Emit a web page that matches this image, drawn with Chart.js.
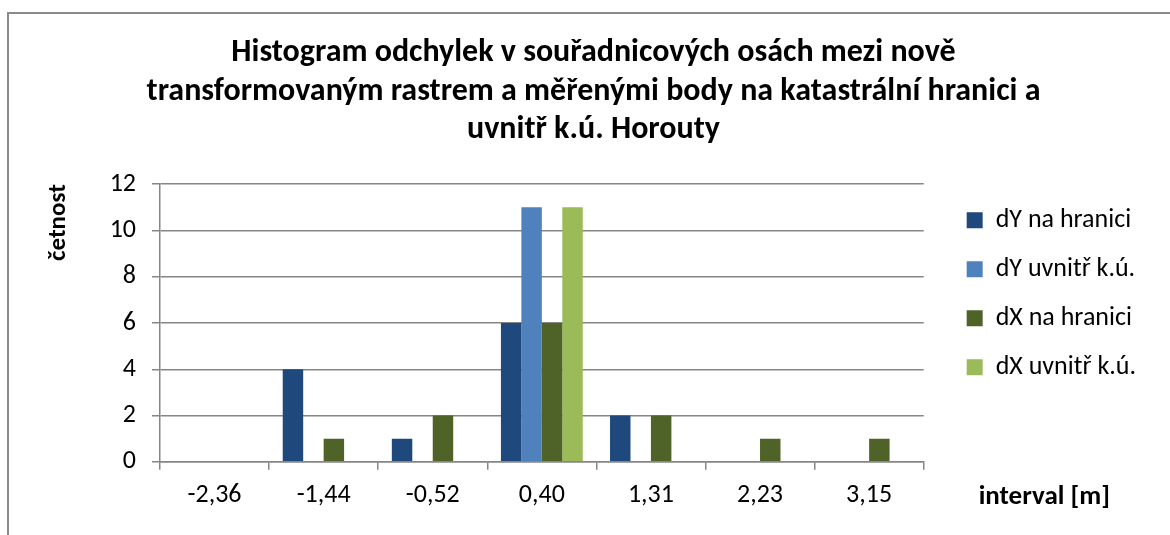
<!DOCTYPE html>
<html>
<head>
<meta charset="utf-8">
<script src="https://cdn.jsdelivr.net/npm/chart.js@4"></script>
<style>
  html, body { margin: 0; padding: 0; background: #fff; }
  #wrap { position: relative; width: 1170px; height: 535px; overflow: hidden; }
  #frame { position: absolute; left: 7px; top: 12px; width: 1200px; height: 600px;
           border-left: 2px solid #8a8a8a; border-top: 2px solid #8a8a8a; }
  canvas { position: absolute; left: 0; top: 0; }
</style>
</head>
<body>
<div id="wrap">
  <div id="frame"></div>
  <canvas id="histo" width="1170" height="535"></canvas>
</div>
<script>
// intervaly (stredy trid) a cetnosti
const categories = ['-2,36', '-1,44', '-0,52', '0,40', '1,31', '2,23', '3,15'];
const dyHranice = [0, 4, 1, 6, 2, 0, 0];
const dyUvnitr = [0, 0, 0, 11, 0, 0, 0];
const dxHranice = [0, 1, 2, 6, 2, 1, 1];
const dxUvnitr = [0, 0, 0, 11, 0, 0, 0];
const yTicks = [0, 2, 4, 6, 8, 10, 12];

const FONT = 'Carlito, "Liberation Sans Narrow", "Open Sans", sans-serif';
const gridColor = '#868686';

// popisek osy x vpravo od grafu (jako v Excelu)
const xTitlePlugin = {
  id: 'xTitleRight',
  afterDraw(chart) {
    const { ctx, chartArea } = chart;
    ctx.save();
    ctx.font = 'bold 27px ' + FONT;
    ctx.fillStyle = '#000';
    ctx.textBaseline = 'middle';
    ctx.textAlign = 'left';
    ctx.fillText('interval [m]', chartArea.right + 55, chartArea.bottom + 35);
    ctx.restore();
  }
};

new Chart(document.getElementById('histo'), {
  type: 'bar',
  data: {
    labels: categories,
    datasets: [
      { label: 'dY na hranici', data: dyHranice, backgroundColor: '#1F497D' },
      { label: 'dY uvnitř k.ú.', data: dyUvnitr, backgroundColor: '#4F81BD' },
      { label: 'dX na hranici', data: dxHranice, backgroundColor: '#4F6228' },
      { label: 'dX uvnitř k.ú.', data: dxUvnitr, backgroundColor: '#9BBB59' }
    ]
  },
  options: {
    responsive: false,
    animation: false,
    devicePixelRatio: 1,
    categoryPercentage: 0.75,
    barPercentage: 1.0,
    layout: { padding: { left: 41, right: 24, top: 25, bottom: 14 } },
    plugins: {
      title: {
        display: true,
        text: [
          'Histogram odchylek v souřadnicových osách mezi nově',
          'transformovaným rastrem a měřenými body na katastrální hranici a',
          'uvnitř k.ú. Horouty'
        ],
        color: '#000',
        font: { family: FONT, size: 32, weight: 'bold', lineHeight: 1.2 },
        padding: { top: 9, bottom: 35 }
      },
      legend: {
        position: 'right',
        align: 'start',
        fullSize: false,
        maxWidth: 260,
        labels: {
          color: '#000',
          font: { family: FONT, size: 26 },
          boxWidth: 16,
          boxHeight: 16,
          padding: 23
        }
      },
      tooltip: { enabled: false }
    },
    scales: {
      x: {
        grid: { drawOnChartArea: false, drawTicks: true, tickLength: 8, color: gridColor, lineWidth: 1.5, offset: true },
        border: { color: gridColor, width: 1.5 },
        ticks: { color: '#000', font: { family: FONT, size: 26 }, padding: 10 }
      },
      y: {
        min: 0,
        max: 12,
        afterBuildTicks(scale) { scale.ticks = yTicks.map(v => ({ value: v })); },
        afterFit(scale) { scale.width = 119; },
        grid: { color: gridColor, lineWidth: 1.5, tickLength: 8 },
        border: { color: gridColor, width: 1.5 },
        ticks: { color: '#000', font: { family: FONT, size: 26 }, padding: 16 },
        title: {
          display: true,
          text: 'četnost',
          align: 'end',
          color: '#000',
          font: { family: FONT, size: 25, weight: 'bold' },
          padding: { top: 3, bottom: 10 }
        }
      },
      // prazdna osa vpravo jen jako mezera mezi grafem a legendou
      gap: {
        type: 'linear',
        position: 'right',
        display: true,
        grid: { display: false },
        border: { display: false },
        ticks: { display: false },
        afterFit(scale) { scale.width = 20; }
      }
    }
  },
  plugins: [xTitlePlugin]
});
</script>
</body>
</html>
